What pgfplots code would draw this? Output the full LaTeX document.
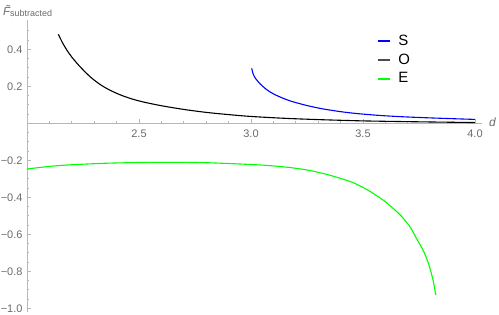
\documentclass[border=0pt]{standalone}
\usepackage{fontspec}
\setmainfont{Liberation Sans}
\usepackage{pgfplots}
\pgfplotsset{compat=1.18}
\definecolor{axgray}{gray}{0.72}
\definecolor{lblgray}{gray}{0.42}
\definecolor{mgreen}{rgb}{0,1,0}
\begin{document}
\begin{tikzpicture}
\path[use as bounding box] (0,0) rectangle (499bp,315bp);
\begin{axis}[
  at={(27bp,3bp)}, anchor=south west,
  scale only axis, width=454.7bp, height=292.3bp,
  xmin=2.0, xmax=4.03, ymin=-1.02, ymax=0.56,
  axis x line=middle, axis y line=left,
  axis line style={-, draw=axgray, line width=0.6bp},
  tick align=inside,
  every tick/.style={draw=axgray, line width=0.6bp},
  major tick length=4bp, minor tick length=2.5bp,
  xtick={2.5,3.0,3.5,4.0},
  xticklabels={2.5,3.0,3.5,4.0},
  minor xtick={2.1,2.2,2.3,2.4,2.6,2.7,2.8,2.9,3.1,3.2,3.3,3.4,3.6,3.7,3.8,3.9},
  ytick={-1.0,-0.8,-0.6,-0.4,-0.2,0.2,0.4},
  yticklabels={−1.0,−0.8,−0.6,−0.4,−0.2,0.2,0.4},
  minor ytick={-0.95,-0.9,-0.85,-0.75,-0.7,-0.65,-0.55,-0.5,-0.45,-0.35,-0.3,-0.25,-0.15,-0.1,-0.05,0.05,0.1,0.15,0.25,0.3,0.35,0.45,0.5},
  tick label style={font=\fontsize{11}{13}\selectfont, text=lblgray},
  xticklabel style={yshift=-3bp},
  yticklabel style={xshift=-1bp},
  clip=false,
  legend style={at={(axis cs:3.561,0.49)}, anchor=north west, draw=none, fill=none,
    font=\fontsize{15}{17}\selectfont, row sep=3bp, column sep=5bp, inner sep=0pt},
  legend cell align=left,
  legend image code/.code={\draw[#1, line width=2bp] (0bp,0bp) -- (12.5bp,0bp);},
]
\addlegendimage{draw=blue}
\addlegendentry{S}
\addlegendimage{draw=black!70}
\addlegendentry{O}
\addlegendimage{draw=mgreen}
\addlegendentry{E}
\addplot[blue, line width=1.1bp, smooth, tension=0.45, forget plot] coordinates {
(3.003,0.297) (3.01,0.266) (3.02,0.243) (3.04,0.214) (3.07,0.182) (3.10,0.159)
(3.14,0.137) (3.18,0.119) (3.25,0.096) (3.32,0.078) (3.40,0.063) (3.47,0.053)
(3.58,0.042) (3.70,0.034) (3.85,0.027) (4.00,0.021)};
\addplot[black, line width=1.1bp, smooth, tension=0.45, forget plot] coordinates {
(2.14,0.481) (2.16,0.432) (2.18,0.392) (2.20,0.358) (2.23,0.315) (2.26,0.277)
(2.29,0.243) (2.33,0.207) (2.37,0.179) (2.42,0.152) (2.47,0.131) (2.52,0.115)
(2.60,0.095) (2.70,0.075) (2.80,0.059) (2.90,0.047) (3.00,0.037) (3.15,0.027)
(3.30,0.020) (3.50,0.013) (3.75,0.008) (4.00,0.004)};
\addplot[mgreen, line width=1.1bp, smooth, tension=0.45, forget plot] coordinates {
(2.00,-0.247) (2.10,-0.233) (2.20,-0.224) (2.35,-0.216) (2.50,-0.212) (2.65,-0.211)
(2.80,-0.213) (2.95,-0.220) (3.05,-0.226) (3.15,-0.236) (3.25,-0.252) (3.35,-0.280)
(3.45,-0.318) (3.52,-0.360) (3.59,-0.415) (3.63,-0.455) (3.67,-0.500) (3.71,-0.560)
(3.74,-0.625) (3.77,-0.690) (3.79,-0.750) (3.805,-0.810) (3.815,-0.860) (3.825,-0.928)};
\node[anchor=base west, inner sep=0pt, text=lblgray, font=\fontsize{12}{14}\selectfont\itshape] at (axis cs:4.062,-0.02) {d};
\node[anchor=base west, inner sep=0pt, text=lblgray] at (axis cs:1.893,0.585)
  {\fontsize{11.5}{13}\selectfont\itshape \~F\upshape\raisebox{-1.8bp}{\fontsize{9}{10}\selectfont subtracted}};
\end{axis}
\end{tikzpicture}
\end{document}
